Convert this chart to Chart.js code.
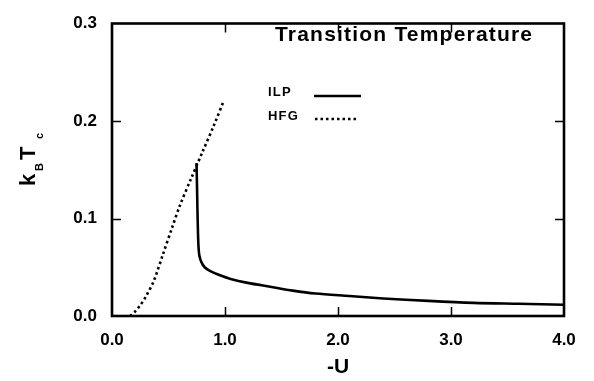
<!DOCTYPE html>
<html>
<head>
<meta charset="utf-8">
<script src="https://cdn.jsdelivr.net/npm/chart.js@4/dist/chart.umd.min.js"></script>
<style>
  html, body { margin: 0; padding: 0; background: #fff; }
  #wrap { width: 594px; height: 381px; }
</style>
</head>
<body>
<div id="wrap"><canvas id="chartTc" width="594" height="381"></canvas></div>
<script>
// ILP (solid) : -U vs kB Tc
const ilpU = [0.748, 0.752, 0.756, 0.761, 0.766, 0.773, 0.79, 0.82, 0.87, 0.95, 1.05, 1.2, 1.4, 1.6, 1.8, 2.1, 2.4, 2.8, 3.2, 3.6, 4.0];
const ilpT = [0.157, 0.135, 0.11, 0.085, 0.07, 0.062, 0.0555, 0.05, 0.046, 0.042, 0.038, 0.034, 0.030, 0.026, 0.023, 0.0205, 0.018, 0.0155, 0.0135, 0.0125, 0.0115];

// HFG (dotted)
const hfgU = [0.16, 0.2, 0.25, 0.3, 0.37, 0.45, 0.53, 0.6, 0.7, 0.8, 0.9, 0.99];
const hfgT = [0, 0.004, 0.011, 0.02, 0.036, 0.063, 0.09, 0.113, 0.141, 0.168, 0.195, 0.221];

const xTicks = [0, 1, 2, 3, 4];
const yTicks = [0, 0.1, 0.2, 0.3];

const FONT = "'Liberation Sans', Arial, Helvetica, sans-serif";
Chart.defaults.font.family = FONT;
Chart.defaults.color = '#000';

const toPoints = (xs, ys) => xs.map((x, i) => ({ x, y: ys[i] }));

// frame, inward ticks, title, legend and y title
const decorations = {
  id: 'decorations',
  afterDraw(chart) {
    const { ctx, chartArea: a, scales: { x, y } } = chart;
    const tl = 9;
    ctx.save();

    ctx.strokeStyle = '#000';
    ctx.lineWidth = 1.5;
    ctx.beginPath();
    xTicks.slice(1, -1).forEach(v => {
      const px = Math.round(x.getPixelForValue(v)) + 0.5;
      ctx.moveTo(px, a.bottom); ctx.lineTo(px, a.bottom - tl);
      ctx.moveTo(px, a.top); ctx.lineTo(px, a.top + tl);
    });
    yTicks.slice(1, -1).forEach(v => {
      const py = Math.round(y.getPixelForValue(v)) + 0.5;
      ctx.moveTo(a.left, py); ctx.lineTo(a.left + tl, py);
      ctx.moveTo(a.right, py); ctx.lineTo(a.right - tl, py);
    });
    ctx.stroke();

    ctx.lineWidth = 2.6;
    ctx.strokeRect(a.left, a.top, a.right - a.left, a.bottom - a.top);

    ctx.fillStyle = '#000';
    ctx.textBaseline = 'alphabetic';
    ctx.textAlign = 'left';

    // title
    ctx.font = `bold 21px ${FONT}`;
    ctx.letterSpacing = '1.2px';
    ctx.fillText('Transition Temperature', 275, 41);

    // legend
    ctx.font = `bold 13px ${FONT}`;
    ctx.letterSpacing = '1.2px';
    ctx.fillText('ILP', 268, 96);
    ctx.fillText('HFG', 268, 120);
    ctx.letterSpacing = '0px';
    ctx.lineWidth = 2.4;
    ctx.beginPath(); ctx.moveTo(314, 96); ctx.lineTo(361, 96); ctx.stroke();
    ctx.setLineDash([2.5, 3]);
    ctx.beginPath(); ctx.moveTo(315, 119); ctx.lineTo(358, 119); ctx.stroke();
    ctx.setLineDash([]);

    // y title: kB Tc, rotated
    ctx.translate(35, 186);
    ctx.rotate(-Math.PI / 2);
    ctx.font = `bold 22px ${FONT}`;
    ctx.fillText('k', 0, 0);
    ctx.fillText('T', 26, 0);
    ctx.font = `bold 11px ${FONT}`;
    ctx.fillText('B', 15, 8);
    ctx.fillText('c', 47, 8);

    ctx.restore();
  }
};

new Chart(document.getElementById('chartTc'), {
  type: 'line',
  data: {
    datasets: [
      {
        label: 'ILP',
        data: toPoints(ilpU, ilpT),
        borderColor: '#000',
        borderWidth: 2.6,
        pointRadius: 0,
        tension: 0.3,
        fill: false
      },
      {
        label: 'HFG',
        data: toPoints(hfgU, hfgT),
        borderColor: '#000',
        borderWidth: 2.6,
        borderDash: [2.5, 3],
        pointRadius: 0,
        tension: 0.3,
        fill: false
      }
    ]
  },
  options: {
    responsive: false,
    animation: false,
    layout: { padding: { top: 9, right: 30, left: 0, bottom: 0 } },
    plugins: {
      legend: { display: false },
      tooltip: { enabled: false }
    },
    scales: {
      x: {
        type: 'linear',
        min: 0,
        max: 4,
        afterBuildTicks: s => { s.ticks = xTicks.map(v => ({ value: v })); },
        afterFit: s => { s.height = 65; },
        grid: { display: false, drawTicks: false },
        border: { display: false },
        ticks: {
          padding: 16,
          font: { size: 17, weight: 'bold', lineHeight: 1 },
          callback: v => Number(v).toFixed(1)
        },
        title: {
          display: true,
          text: '-U',
          font: { size: 21, weight: 'bold' },
          padding: { top: 0, bottom: 1 }
        }
      },
      y: {
        min: 0,
        max: 0.3,
        afterBuildTicks: s => { s.ticks = yTicks.map(v => ({ value: v })); },
        afterFit: s => { s.width = 112; },
        grid: { display: false, drawTicks: false },
        border: { display: false },
        ticks: {
          padding: 15,
          font: { size: 17, weight: 'bold', lineHeight: 1 },
          callback: v => Number(v).toFixed(1)
        }
      }
    }
  },
  plugins: [decorations]
});
</script>
</body>
</html>
